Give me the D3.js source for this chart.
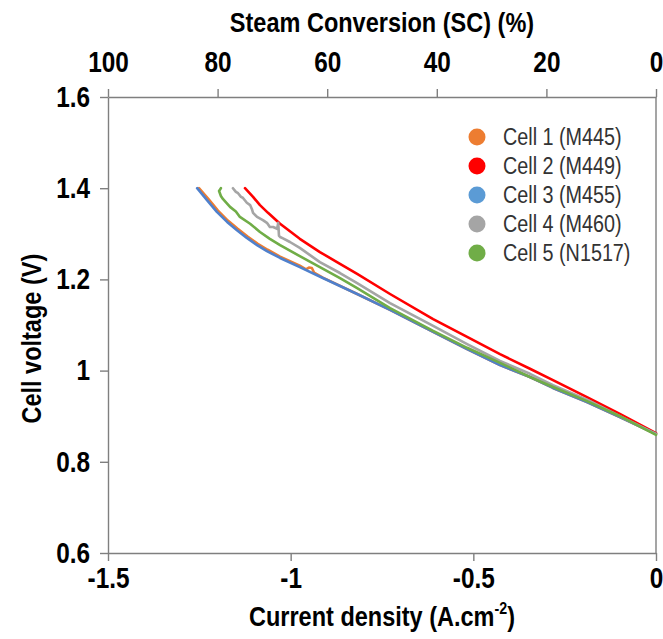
<!DOCTYPE html>
<html>
<head>
    <meta charset="utf-8">
    <title>Cell voltage vs current density</title>
    <script src="https://cdn.jsdelivr.net/npm/d3@7"></script>
    <style>
        body { margin: 0; background: #fff; }
        text { font-family: "Liberation Sans Narrow", "Arial Narrow", "Liberation Sans", Arial, sans-serif; }
    </style>
</head>
<body>
<script>
    var w = 663;
    var h = 639;
    var margin = {top: 97, right: 7, bottom: 86, left: 108};

    // legend names + colours
    var cells = ["Cell 1 (M445)", "Cell 2 (M449)", "Cell 3 (M455)", "Cell 4 (M460)", "Cell 5 (N1517)"];
    var colors = ["#ED7D31", "#FF0000", "#4F80CC", "#A5A5A5", "#70AD47"];
    var legendColors = ["#ED7D31", "#FF0000", "#5B9BD5", "#A5A5A5", "#70AD47"];

    // tick labels
    var currentTicks = [-1.5, -1, -0.5, 0];
    var scTicks = [100, 80, 60, 40, 20, 0];
    var voltTicks = [0.6, 0.8, 1, 1.2, 1.4, 1.6];

    // curves: current density (A/cm2) and cell voltage (V)
    var cell1I = [-1.251, -1.226, -1.199, -1.172, -1.145, -1.118, -1.090, -1.063, -1.029, -0.975, -0.958, -0.950, -0.942, -0.936, -0.912, -0.818, -0.728, -0.610, -0.517, -0.427, -0.345, -0.282, -0.189, -0.099, 0];
    var cell1V = [1.400, 1.377, 1.351, 1.329, 1.311, 1.294, 1.278, 1.265, 1.250, 1.230, 1.222, 1.226, 1.225, 1.215, 1.204, 1.168, 1.133, 1.085, 1.047, 1.012, 0.986, 0.962, 0.931, 0.898, 0.861];

    var cell2I = [-1.125, -1.103, -1.084, -1.062, -1.029, -0.975, -0.920, -0.865, -0.818, -0.728, -0.610, -0.517, -0.427, -0.345, -0.282, -0.189, -0.099, 0];
    var cell2V = [1.400, 1.381, 1.363, 1.346, 1.322, 1.289, 1.260, 1.234, 1.212, 1.168, 1.113, 1.074, 1.036, 1.004, 0.979, 0.942, 0.905, 0.863];

    var cell3I = [-1.256, -1.229, -1.202, -1.174, -1.147, -1.120, -1.092, -1.065, -1.029, -0.975, -0.912, -0.818, -0.728, -0.610, -0.517, -0.427, -0.345, -0.282, -0.189, -0.099, 0];
    var cell3V = [1.400, 1.374, 1.348, 1.326, 1.308, 1.291, 1.275, 1.262, 1.247, 1.227, 1.203, 1.168, 1.133, 1.085, 1.047, 1.012, 0.986, 0.962, 0.931, 0.898, 0.861];

    var cell4I = [-1.158, -1.150, -1.144, -1.136, -1.131, -1.120, -1.111, -1.106, -1.103, -1.092, -1.076, -1.065, -1.057, -1.048, -1.037, -1.034, -1.032, -1.029, -1.021, -1.002, -0.975, -0.920, -0.865, -0.818, -0.728, -0.610, -0.517, -0.427, -0.345, -0.282, -0.189, -0.099, 0];
    var cell4V = [1.400, 1.392, 1.389, 1.381, 1.379, 1.368, 1.363, 1.354, 1.346, 1.337, 1.330, 1.324, 1.315, 1.315, 1.311, 1.324, 1.296, 1.293, 1.290, 1.282, 1.269, 1.238, 1.214, 1.192, 1.148, 1.098, 1.058, 1.021, 0.993, 0.968, 0.936, 0.900, 0.861];

    var cell5I = [-1.191, -1.196, -1.191, -1.185, -1.166, -1.150, -1.139, -1.111, -1.084, -1.057, -1.029, -0.975, -0.920, -0.865, -0.818, -0.728, -0.610, -0.517, -0.427, -0.345, -0.282, -0.189, -0.099, 0];
    var cell5V = [1.400, 1.394, 1.383, 1.376, 1.359, 1.349, 1.337, 1.322, 1.304, 1.289, 1.275, 1.251, 1.227, 1.203, 1.181, 1.137, 1.087, 1.050, 1.017, 0.986, 0.964, 0.933, 0.900, 0.859];

    var curvesI = [cell1I, cell2I, cell3I, cell4I, cell5I];
    var curvesV = [cell1V, cell2V, cell3V, cell4V, cell5V];

    var svg = d3.select("body").append("svg")
                .attr("width", w)
                .attr("height", h);

    var x = d3.scaleLinear().domain([-1.5, 0]).range([margin.left, w - margin.right]);
    var xTop = d3.scaleLinear().domain([100, 0]).range([margin.left, w - margin.right]);
    var y = d3.scaleLinear().domain([0.6, 1.6]).range([h - margin.bottom, margin.top]);

    var axisColor = "#7F7F7F";
    var squeeze = 0.84; // no narrow font installed, so squash the sans horizontally

    // squash a text sideways around its own x position
    function narrow(sel, sx) {
        sel.each(function() {
            var t = d3.select(this);
            var tx = +t.attr("x") || 0;
            var old = t.attr("transform") || "";
            t.attr("x", 0)
             .attr("transform", old + " translate(" + tx + ",0) scale(" + sx + ",1)");
        });
    }

    function styleAxis(g) {
        g.selectAll("path, line").attr("stroke", axisColor).attr("stroke-width", 1.4);
        g.selectAll("text")
         .attr("fill", "#000")
         .attr("font-size", 29)
         .attr("font-weight", "bold")
         .call(narrow, squeeze);
    }

    // bottom axis
    svg.append("g")
       .attr("transform", "translate(0," + y(0.6) + ")")
       .call(d3.axisBottom(x).tickValues(currentTicks).tickSize(8).tickSizeOuter(0).tickPadding(6)
             .tickFormat(function(d){ return d === 0 ? "0" : String(d); }))
       .call(styleAxis);

    // top axis (steam conversion)
    svg.append("g")
       .attr("transform", "translate(0," + y(1.6) + ")")
       .call(d3.axisTop(xTop).tickValues(scTicks).tickSize(8).tickSizeOuter(0).tickPadding(17)
             .tickFormat(d3.format("d")))
       .call(styleAxis);

    // left axis
    svg.append("g")
       .attr("transform", "translate(" + x(-1.5) + ",0)")
       .call(d3.axisLeft(y).tickValues(voltTicks).tickSize(8).tickSizeOuter(0).tickPadding(10)
             .tickFormat(function(d){ return String(d); }))
       .call(styleAxis);

    // right frame line
    svg.append("line")
       .attr("x1", x(0)).attr("x2", x(0))
       .attr("y1", y(1.6)).attr("y2", y(0.6))
       .attr("stroke", axisColor).attr("stroke-width", 1.4);

    // curves
    var line = d3.line()
                 .x(function(d){ return x(d[0]); })
                 .y(function(d){ return y(d[1]); });

    curvesI.forEach(function(arr, k) {
        var pts = arr.map(function(v, i){ return [v, curvesV[k][i]]; });
        svg.append("path")
           .datum(pts)
           .attr("d", line)
           .attr("fill", "none")
           .attr("stroke", colors[k])
           .attr("stroke-width", 2.6)
           .attr("stroke-linejoin", "round")
           .attr("stroke-linecap", "round");
    });

    // legend
    var legend = svg.append("g");
    cells.forEach(function(name, i) {
        var ly = 137 + i * 29;
        legend.append("circle")
              .attr("cx", 477).attr("cy", ly).attr("r", 8.5)
              .attr("fill", legendColors[i]);
        legend.append("text")
              .attr("x", 503).attr("y", ly + 8)
              .attr("font-size", 23)
              .attr("fill", "#333")
              .text(name)
              .call(narrow, 0.86);
    });

    // axis titles
    svg.append("text")
       .attr("x", (x(-1.5) + x(0)) / 2).attr("y", 32)
       .attr("text-anchor", "middle")
       .attr("font-size", 28).attr("font-weight", "bold")
       .text("Steam Conversion (SC) (%)")
       .call(narrow, squeeze);

    var xt = svg.append("text")
       .attr("x", (x(-1.5) + x(0)) / 2).attr("y", 626)
       .attr("text-anchor", "middle")
       .attr("font-size", 28).attr("font-weight", "bold");
    xt.append("tspan").text("Current density (A.cm");
    xt.append("tspan").attr("font-size", 17).attr("dy", -12).text("-2");
    xt.append("tspan").attr("dy", 12).text(")");
    xt.call(narrow, squeeze);

    svg.append("text")
       .attr("transform", "translate(41," + y(1.07) + ") rotate(-90)")
       .attr("text-anchor", "middle")
       .attr("font-size", 28).attr("font-weight", "bold")
       .text("Cell voltage (V)")
       .call(narrow, squeeze);
</script>
</body>
</html>
